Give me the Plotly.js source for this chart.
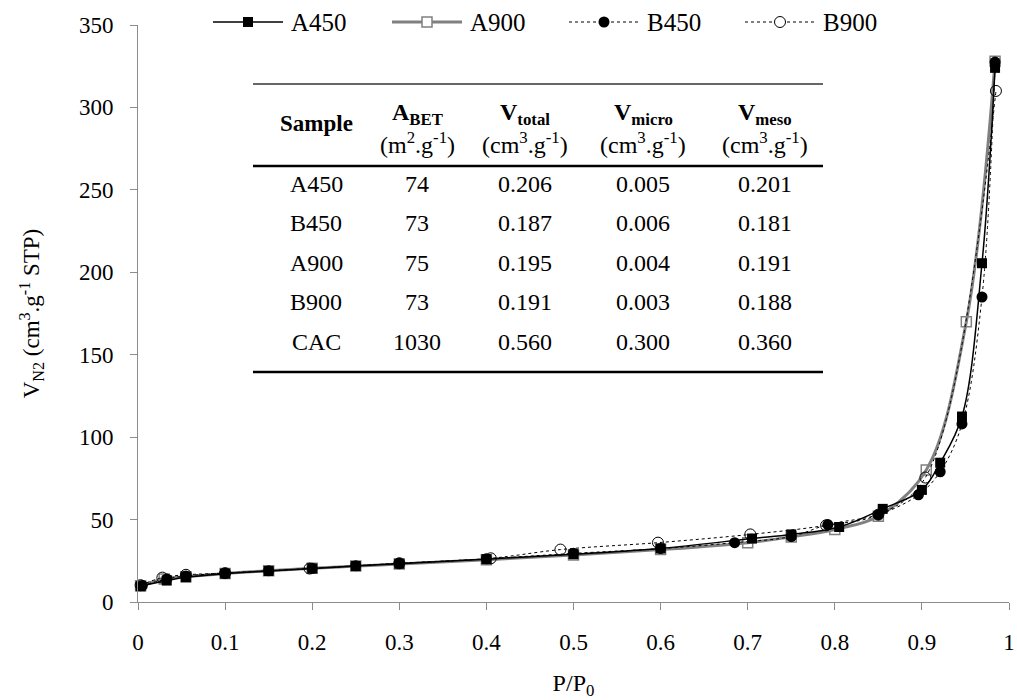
<!DOCTYPE html>
<html>
<head>
<meta charset="utf-8">
<script src="https://cdn.plot.ly/plotly-3.0.1.min.js"></script>
<style>
  html, body { margin: 0; padding: 0; background: #fff; }
  #chart { width: 1017px; height: 700px; }
</style>
</head>
<body>
<div id="chart"></div>
<script>
// N2 adsorption isotherms (relative pressure vs adsorbed volume)
const xA450 = [0.003, 0.033, 0.055, 0.1, 0.15, 0.2, 0.25, 0.3, 0.4, 0.5, 0.6, 0.705, 0.75, 0.805, 0.855, 0.9, 0.921, 0.946, 0.969, 0.984];
const yA450 = [9.5, 13.0, 15.0, 17.2, 18.8, 20.3, 21.8, 23.2, 26.0, 29.0, 32.5, 38.5, 41.0, 45.5, 56.5, 68.0, 84.5, 112.5, 205.5, 324.0];

const xA900 = [0.003, 0.03, 0.055, 0.1, 0.15, 0.2, 0.25, 0.3, 0.4, 0.5, 0.6, 0.7, 0.75, 0.8, 0.85, 0.905, 0.951, 0.984];
const yA900 = [9.8, 14.0, 15.3, 17.3, 19.0, 20.4, 21.8, 23.0, 25.7, 28.5, 31.8, 36.0, 39.5, 44.0, 52.0, 80.0, 170.0, 328.0];

const xB450 = [0.005, 0.033, 0.055, 0.1, 0.15, 0.2, 0.25, 0.3, 0.4, 0.5, 0.6, 0.685, 0.75, 0.792, 0.85, 0.896, 0.921, 0.946, 0.969, 0.984];
const yB450 = [10.0, 14.0, 15.8, 17.5, 19.0, 20.4, 22.0, 23.5, 26.2, 29.5, 32.4, 36.0, 39.7, 47.0, 53.0, 65.0, 79.0, 108.0, 185.0, 327.5];

const xB900 = [0.003, 0.028, 0.055, 0.1, 0.197, 0.3, 0.405, 0.485, 0.597, 0.703, 0.79, 0.85, 0.904, 0.985];
const yB900 = [10.2, 14.8, 16.5, 17.5, 20.3, 23.5, 26.5, 31.8, 36.0, 41.0, 46.5, 53.0, 75.5, 310.0];

// Textural properties table
const samples = ["A450", "B450", "A900", "B900", "CAC"];
const aBET   = ["74", "73", "75", "73", "1030"];
const vTotal = ["0.206", "0.187", "0.195", "0.191", "0.560"];
const vMicro = ["0.005", "0.006", "0.004", "0.003", "0.300"];
const vMeso  = ["0.201", "0.181", "0.191", "0.188", "0.360"];
const tableHeads = ["<b>Sample</b>", "<b>A<sub>BET</sub></b>", "<b>V<sub>total</sub></b>", "<b>V<sub>micro</sub></b>", "<b>V<sub>meso</sub></b>"];
const tableUnits = ["", "(m<sup>2</sup>.g<sup>-1</sup>)", "(cm<sup>3</sup>.g<sup>-1</sup>)", "(cm<sup>3</sup>.g<sup>-1</sup>)", "(cm<sup>3</sup>.g<sup>-1</sup>)"];

const seriesNames = ["A450", "A900", "B450", "B900"];

const FONT = "Liberation Serif, Times New Roman, serif";
const W = 1017, H = 700;
const M = { l: 138, r: 8, t: 25, b: 98 };
const PW = W - M.l - M.r, PH = H - M.t - M.b;
// pixel -> paper helpers for the inset table and key
const px = v => (v - M.l) / PW;
const py = v => (H - M.b - v) / PH;

const styles = {
  A450: { line: { color: "#000", width: 1.5, shape: "spline", smoothing: 1 },
          marker: { symbol: "square", size: 10, color: "#000" } },
  A900: { line: { color: "#808080", width: 3, shape: "spline", smoothing: 1 },
          marker: { symbol: "square-open", size: 10, color: "#808080", line: { width: 1.5, color: "#808080" } } },
  B450: { line: { color: "#000", width: 1, dash: "dot", shape: "spline", smoothing: 1 },
          marker: { symbol: "circle", size: 11, color: "#000" } },
  B900: { line: { color: "#000", width: 1, dash: "dot", shape: "spline", smoothing: 1 },
          marker: { symbol: "circle-open", size: 11, color: "#000", line: { width: 1, color: "#000" } } }
};

const dataXY = { A450: [xA450, yA450], A900: [xA900, yA900], B450: [xB450, yB450], B900: [xB900, yB900] };
const drawOrder = ["A900", "A450", "B450", "B900"];
const traces = drawOrder.map(n => ({
  type: "scatter", mode: "lines+markers", name: n,
  x: dataXY[n][0], y: dataXY[n][1],
  line: styles[n].line, marker: styles[n].marker,
  showlegend: false, cliponaxis: false
}));

const shapes = [];
const annotations = [];

// key across the top
const keyStart = [213, 392, 569, 745];
const keyY = 22;
seriesNames.forEach((n, i) => {
  const x0 = keyStart[i], x1 = x0 + 70, xc = (x0 + x1) / 2;
  const st = styles[n];
  shapes.push({ type: "line", xref: "paper", yref: "paper", x0: px(x0), x1: px(x1), y0: py(keyY), y1: py(keyY),
    line: { color: st.line.color, width: st.line.width, dash: st.line.dash || "solid" } });
  const s = 5;
  if (n === "A450") shapes.push({ type: "rect", xref: "paper", yref: "paper", x0: px(xc - s), x1: px(xc + s), y0: py(keyY + s), y1: py(keyY - s), fillcolor: "#000", line: { width: 0 } });
  if (n === "A900") shapes.push({ type: "rect", xref: "paper", yref: "paper", x0: px(xc - s), x1: px(xc + s), y0: py(keyY + s), y1: py(keyY - s), fillcolor: "#fff", line: { width: 1.5, color: "#808080" } });
  if (n === "B450") shapes.push({ type: "circle", xref: "paper", yref: "paper", x0: px(xc - 5.5), x1: px(xc + 5.5), y0: py(keyY + 5.5), y1: py(keyY - 5.5), fillcolor: "#000", line: { width: 0 } });
  if (n === "B900") shapes.push({ type: "circle", xref: "paper", yref: "paper", x0: px(xc - 5.5), x1: px(xc + 5.5), y0: py(keyY + 5.5), y1: py(keyY - 5.5), fillcolor: "#fff", line: { width: 1, color: "#000" } });
  annotations.push({ xref: "paper", yref: "paper", x: px(x1 + 6), y: py(keyY), xanchor: "left", yanchor: "middle",
    text: n, showarrow: false, font: { family: FONT, size: 25, color: "#000" } });
});

// inset table
const colX = [316, 417, 525, 643, 765];
const rowY = [184, 223, 263, 302, 342];
const tFont = { family: FONT, size: 24, color: "#000" };
tableHeads.forEach((h, j) => {
  annotations.push({ xref: "paper", yref: "paper", x: px(colX[j]), y: py(j === 0 ? 123 : 114), xanchor: "center", yanchor: "middle",
    text: h, showarrow: false, font: j === 0 ? { family: FONT, size: 23, color: "#000" } : tFont });
  if (tableUnits[j]) annotations.push({ xref: "paper", yref: "paper", x: px(colX[j]), y: py(143), xanchor: "center", yanchor: "middle",
    text: tableUnits[j], showarrow: false, font: tFont });
});
const cols = [samples, aBET, vTotal, vMicro, vMeso];
cols.forEach((col, j) => col.forEach((v, i) => {
  annotations.push({ xref: "paper", yref: "paper", x: px(colX[j]), y: py(rowY[i]), xanchor: "center", yanchor: "middle",
    text: v, showarrow: false, font: tFont });
}));
[[84, 1.5, "#333"], [166, 2.5, "#000"], [372, 2.5, "#000"]].forEach(([yy, w, c]) => {
  shapes.push({ type: "line", xref: "paper", yref: "paper", x0: px(253), x1: px(823), y0: py(yy), y1: py(yy), line: { color: c, width: w } });
});

const axisCommon = {
  showgrid: false, zeroline: false, showline: true, linecolor: "#8c8c8c", linewidth: 1,
  ticks: "outside", ticklen: 7, tickcolor: "#8c8c8c", tickwidth: 1,
  tickfont: { family: FONT, size: 23, color: "#000" }, ticklabelstandoff: 12
};

const layout = {
  width: W, height: H,
  margin: M,
  paper_bgcolor: "#fff", plot_bgcolor: "#fff",
  xaxis: Object.assign({}, axisCommon, {
    range: [0, 1], dtick: 0.1, tick0: 0,
    title: { text: "P/P<sub>0</sub>", font: { family: FONT, size: 24, color: "#000" }, standoff: 34 }
  }),
  yaxis: Object.assign({}, axisCommon, {
    range: [0, 350], dtick: 50, tick0: 0,
    title: { text: "V<sub>N2</sub> (cm<sup>3</sup>.g<sup>-1</sup> STP)", font: { family: FONT, size: 23, color: "#000" }, standoff: 32 }
  }),
  shapes: shapes,
  annotations: annotations,
  showlegend: false
};

Plotly.newPlot("chart", traces, layout, { staticPlot: true, displayModeBar: false });
</script>
</body>
</html>
